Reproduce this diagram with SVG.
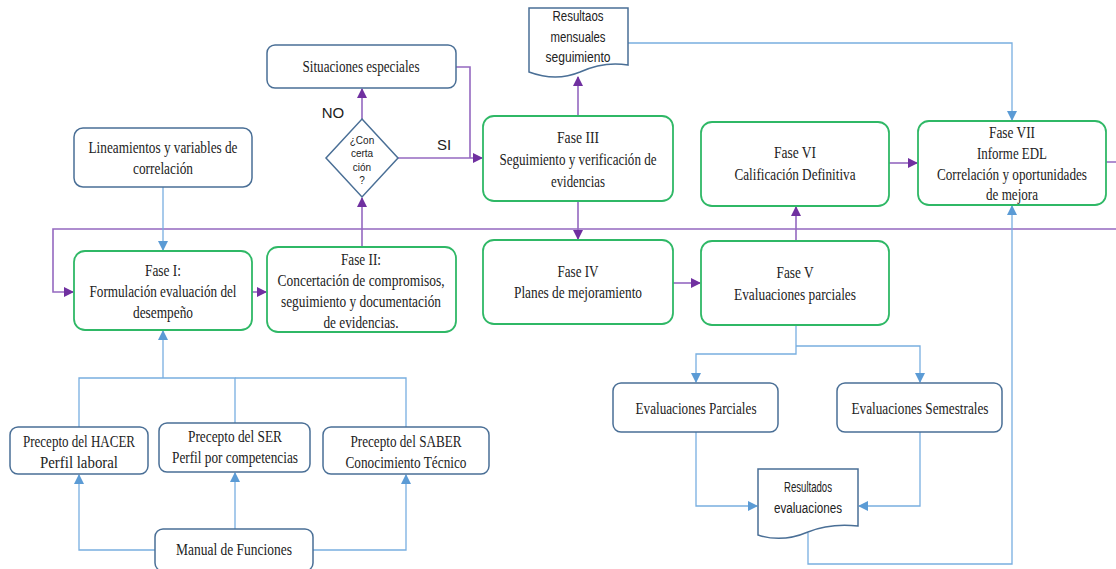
<svg xmlns="http://www.w3.org/2000/svg" width="1116" height="569" viewBox="0 0 1116 569">
<style>
.g{fill:#fff;stroke:#2fb866;stroke-width:1.8}
.b{fill:#fff;stroke:#4a6f96;stroke-width:1.5}
.t{font-family:"Liberation Serif","Times New Roman",serif;font-size:16px;fill:#222;text-anchor:middle}
.s{font-family:"Liberation Sans",Arial,sans-serif;fill:#222;text-anchor:middle}
.p{fill:none;stroke:#9468c0;stroke-width:1.6}
.l{fill:none;stroke:#78aee0;stroke-width:1.3}
</style>
<defs>
<marker id="ap" markerUnits="userSpaceOnUse" markerWidth="10" markerHeight="10" viewBox="0 0 10 10" refX="9" refY="5" orient="auto"><path d="M0,0 L10,5 L0,10 Z" fill="#7030a0"/></marker>
<marker id="ab" markerUnits="userSpaceOnUse" markerWidth="10" markerHeight="10" viewBox="0 0 10 10" refX="9" refY="5" orient="auto"><path d="M0,0 L10,5 L0,10 Z" fill="#5b9bd5"/></marker>
</defs>
<g id="connectors">
<path class="p" d="M1106,162 H1122 V229 H53 V292 H73" marker-end="url(#ap)"/>
<path class="p" d="M252,292 H266" marker-end="url(#ap)"/>
<path class="p" d="M362,247 V198" marker-end="url(#ap)"/>
<path class="p" d="M362,119 V89" marker-end="url(#ap)"/>
<path class="p" d="M456,67 H470 V158"/>
<path class="p" d="M398,158 H482" marker-end="url(#ap)"/>
<path class="p" d="M578,116 V77" marker-end="url(#ap)"/>
<path class="p" d="M578,201 V239" marker-end="url(#ap)"/>
<path class="p" d="M673,283 H700" marker-end="url(#ap)"/>
<path class="p" d="M796,241 V207" marker-end="url(#ap)"/>
<path class="p" d="M889,163 H917" marker-end="url(#ap)"/>
<path class="l" d="M628,43 H1012 V120" marker-end="url(#ab)"/>
<path class="l" d="M796,325 V354 H696 V382" marker-end="url(#ab)"/>
<path class="l" d="M796,346 H920 V382" marker-end="url(#ab)"/>
<path class="l" d="M696,432 V506 H757" marker-end="url(#ab)"/>
<path class="l" d="M920,432 V506 H859" marker-end="url(#ab)"/>
<path class="l" d="M808,533 V564 H1012 V206" marker-end="url(#ab)"/>
<path class="l" d="M163,187 V250" marker-end="url(#ab)"/>
<path class="l" d="M79,427 V378 H235 V423"/>
<path class="l" d="M406,427 V378 H235"/>
<path class="l" d="M163,378 V331" marker-end="url(#ab)"/>
<path class="l" d="M155,550 H79 V475" marker-end="url(#ab)"/>
<path class="l" d="M235,529 V473" marker-end="url(#ab)"/>
<path class="l" d="M313,550 H406 V475" marker-end="url(#ab)"/>
</g>
<g id="situaciones"><rect class="b" x="267" y="45" width="189" height="43" rx="8"/><text class="t" x="361" y="72" textLength="117" lengthAdjust="spacingAndGlyphs">Situaciones especiales</text></g>
<g id="resultaos"><path class="b" d="M529,8 H628 V65 Q604,61 580,72 Q556,82 529,72 Z"/>
<text class="s" font-size="14" x="578" y="21" textLength="51" lengthAdjust="spacingAndGlyphs">Resultaos</text>
<text class="s" font-size="14" x="578" y="42" textLength="55" lengthAdjust="spacingAndGlyphs">mensuales</text>
<text class="s" font-size="14" x="578" y="62" textLength="65" lengthAdjust="spacingAndGlyphs">seguimiento</text></g>
<g id="decision"><polygon class="b" points="362,119 398,158 362,197 326,158"/>
<text class="s" font-size="10" x="362" y="144">¿Con</text>
<text class="s" font-size="10" x="362" y="157">certa</text>
<text class="s" font-size="10" x="362" y="171">ción</text>
<text class="s" font-size="10" x="362" y="184">?</text></g>
<text class="s" font-size="15" x="333" y="118">NO</text>
<text class="s" font-size="15" x="444" y="150">SI</text>
<g id="fase3"><rect class="g" x="483" y="116" width="190" height="85" rx="11"/>
<text class="t" x="578" y="143" textLength="42" lengthAdjust="spacingAndGlyphs">Fase III</text>
<text class="t" x="578" y="165" textLength="157" lengthAdjust="spacingAndGlyphs">Seguimiento y verificación de</text>
<text class="t" x="578" y="187" textLength="54" lengthAdjust="spacingAndGlyphs">evidencias</text></g>
<g id="fase6"><rect class="g" x="701" y="122" width="188" height="84" rx="11"/>
<text class="t" x="795" y="158" textLength="42" lengthAdjust="spacingAndGlyphs">Fase VI</text>
<text class="t" x="795" y="180" textLength="121" lengthAdjust="spacingAndGlyphs">Calificación Definitiva</text></g>
<g id="fase7"><rect class="g" x="918" y="121" width="188" height="84" rx="11"/>
<text class="t" x="1012" y="138" textLength="46" lengthAdjust="spacingAndGlyphs">Fase VII</text>
<text class="t" x="1012" y="159" textLength="70" lengthAdjust="spacingAndGlyphs">Informe EDL</text>
<text class="t" font-size="14" x="1012" y="180" textLength="150" lengthAdjust="spacingAndGlyphs">Correlación y oportunidades</text>
<text class="t" x="1012" y="200" textLength="52" lengthAdjust="spacingAndGlyphs">de mejora</text></g>
<g id="lineamientos"><rect class="b" x="74" y="128" width="178" height="59" rx="9"/>
<text class="t" x="163" y="153" textLength="149" lengthAdjust="spacingAndGlyphs">Lineamientos y variables de</text>
<text class="t" x="163" y="174" textLength="60" lengthAdjust="spacingAndGlyphs">correlación</text></g>
<g id="fase1"><rect class="g" x="74" y="251" width="178" height="79" rx="11"/>
<text class="t" x="163" y="276" textLength="36" lengthAdjust="spacingAndGlyphs">Fase I:</text>
<text class="t" x="163" y="297" textLength="147" lengthAdjust="spacingAndGlyphs">Formulación evaluación del</text>
<text class="t" x="163" y="318" textLength="60" lengthAdjust="spacingAndGlyphs">desempeño</text></g>
<g id="fase2"><rect class="g" x="267" y="247" width="189" height="85" rx="11"/>
<text class="t" x="361" y="265" textLength="40" lengthAdjust="spacingAndGlyphs">Fase II:</text>
<text class="t" x="361" y="286" textLength="167" lengthAdjust="spacingAndGlyphs">Concertación de compromisos,</text>
<text class="t" x="361" y="307" textLength="160" lengthAdjust="spacingAndGlyphs">seguimiento y documentación</text>
<text class="t" x="361" y="328" textLength="75" lengthAdjust="spacingAndGlyphs">de evidencias.</text></g>
<g id="fase4"><rect class="g" x="483" y="240" width="190" height="84" rx="11"/>
<text class="t" x="578" y="277" textLength="41" lengthAdjust="spacingAndGlyphs">Fase IV</text>
<text class="t" x="578" y="298" textLength="128" lengthAdjust="spacingAndGlyphs">Planes de mejoramiento</text></g>
<g id="fase5"><rect class="g" x="701" y="241" width="188" height="84" rx="11"/>
<text class="t" x="795" y="278" textLength="37" lengthAdjust="spacingAndGlyphs">Fase V</text>
<text class="t" x="795" y="300" textLength="122" lengthAdjust="spacingAndGlyphs">Evaluaciones parciales</text></g>
<g id="evparciales"><rect class="b" x="613" y="383" width="165" height="49" rx="8"/>
<text class="t" x="696" y="414" textLength="121" lengthAdjust="spacingAndGlyphs">Evaluaciones Parciales</text></g>
<g id="evsemestrales"><rect class="b" x="837" y="383" width="165" height="49" rx="8"/>
<text class="t" x="920" y="414" textLength="137" lengthAdjust="spacingAndGlyphs">Evaluaciones Semestrales</text></g>
<g id="resultados"><path class="b" d="M758,469 H858 V526 Q830,523 808,532 Q782,543 758,535 Z"/>
<text class="s" font-size="14" x="808" y="492" textLength="48" lengthAdjust="spacingAndGlyphs">Resultados</text>
<text class="s" font-size="14" x="808" y="513" textLength="68" lengthAdjust="spacingAndGlyphs">evaluaciones</text></g>
<g id="hacer"><rect class="b" x="10" y="427" width="138" height="47" rx="8"/>
<text class="t" x="79" y="447" textLength="112" lengthAdjust="spacingAndGlyphs">Precepto del HACER</text>
<text class="t" x="79" y="468" textLength="78" lengthAdjust="spacingAndGlyphs">Perfil laboral</text></g>
<g id="ser"><rect class="b" x="159" y="423" width="151" height="49" rx="8"/>
<text class="t" x="235" y="442" textLength="94" lengthAdjust="spacingAndGlyphs">Precepto del SER</text>
<text class="t" x="235" y="463" textLength="126" lengthAdjust="spacingAndGlyphs">Perfil por competencias</text></g>
<g id="saber"><rect class="b" x="323" y="427" width="166" height="47" rx="8"/>
<text class="t" x="406" y="447" textLength="111" lengthAdjust="spacingAndGlyphs">Precepto del SABER</text>
<text class="t" x="406" y="468" textLength="121" lengthAdjust="spacingAndGlyphs">Conocimiento Técnico</text></g>
<g id="manual"><rect class="b" x="155" y="529" width="158" height="42" rx="8"/>
<text class="t" x="234" y="555" textLength="116" lengthAdjust="spacingAndGlyphs">Manual de Funciones</text></g>
</svg>
